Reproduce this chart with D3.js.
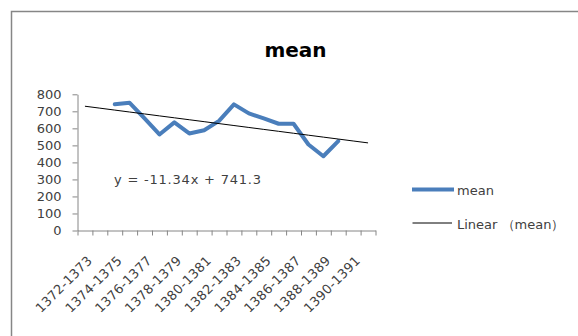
<!DOCTYPE html>
<html>
<head>
<meta charset="utf-8">
<script src="https://cdn.jsdelivr.net/npm/d3@7"></script>
<style>
  html, body { margin: 0; padding: 0; background: #fff; }
  svg { display: block; }
  text { font-family: "DejaVu Sans", sans-serif; }
</style>
</head>
<body>
<svg id="chart" width="578" height="336"></svg>
<script>
// Yearly periods (20 categories along the x axis)
const categories = [
  "1372-1373", "1373-1374", "1374-1375", "1375-1376", "1376-1377",
  "1377-1378", "1378-1379", "1379-1380", "1380-1381", "1381-1382",
  "1382-1383", "1383-1384", "1384-1385", "1385-1386", "1386-1387",
  "1387-1388", "1388-1389", "1389-1390", "1390-1391", "1391-1392"
];
// Mean value per period (null = no observation)
const meanValues = [
  null, null, 741, 750, 658, 564, 635, 570, 589, 644,
  741, 688, 658, 627, 627, 505, 436, 525, null, null
];
// Linear trendline y = slope * x + intercept, x = 1..n over categories
const trendSlope = -11.34;
const trendIntercept = 741.3;
const yTicks = [0, 100, 200, 300, 400, 500, 600, 700, 800];
const seriesName = "mean";
const trendName = "Linear\u00a0\uff08mean\uff09";

const svg = d3.select("#chart");
const plot = { left: 77.5, right: 375.5, top: 94.3, bottom: 230.5 };

// Outer chart frame
svg.append("rect")
  .attr("x", 11.5).attr("y", 11.5)
  .attr("width", 640).attr("height", 400)
  .attr("fill", "#fff")
  .attr("stroke", "#868686")
  .attr("stroke-width", 1.5);

// Title
svg.append("text")
  .attr("x", 295.5).attr("y", 57)
  .attr("text-anchor", "middle")
  .attr("font-size", 20)
  .attr("font-weight", "bold")
  .attr("fill", "#000")
  .text(seriesName);

const x = d3.scaleBand()
  .domain(categories)
  .range([plot.left, plot.right])
  .paddingInner(0).paddingOuter(0);
const y = d3.scaleLinear().domain([0, 800]).range([plot.bottom, plot.top]);

// Y axis
const yAxis = svg.append("g")
  .attr("transform", `translate(${plot.left},0)`)
  .call(d3.axisLeft(y).tickValues(yTicks).tickSize(5).tickPadding(11).tickSizeOuter(0));
yAxis.select(".domain").attr("stroke", "#868686");
yAxis.selectAll(".tick line").attr("stroke", "#868686");
yAxis.selectAll(".tick text")
  .attr("font-family", "DejaVu Sans, sans-serif")
  .attr("font-size", 13)
  .attr("fill", "#404040");

// X axis: ticks on category boundaries
const xb = d3.scaleLinear().domain([0, categories.length]).range([plot.left, plot.right]);
const xAxis = svg.append("g")
  .attr("transform", `translate(0,${plot.bottom})`)
  .call(d3.axisBottom(xb).tickValues(d3.range(categories.length + 1)).tickSize(5).tickFormat("").tickSizeOuter(0));
xAxis.select(".domain").attr("stroke", "#868686");
xAxis.selectAll(".tick line").attr("stroke", "#868686");

// Category labels (every other one), rotated
svg.append("g")
  .selectAll("text")
  .data(categories.filter((d, i) => i % 2 === 0))
  .join("text")
  .attr("transform", d => `translate(${x(d) + x.bandwidth() / 2 + 8},${plot.bottom + 31}) rotate(-45)`)
  .attr("text-anchor", "end")
  .attr("font-size", 13)
  .attr("letter-spacing", 0.3)
  .attr("fill", "#404040")
  .text(d => d);

// Data series line
const line = d3.line()
  .defined(d => d.v !== null)
  .x(d => x(d.c) + x.bandwidth() / 2)
  .y(d => y(d.v));
const pts = categories.map((c, i) => ({ c, v: meanValues[i] }));
svg.append("path")
  .datum(pts)
  .attr("d", line)
  .attr("fill", "none")
  .attr("stroke", "#4a7ebb")
  .attr("stroke-width", 4)
  .attr("stroke-linejoin", "round")
  .attr("stroke-linecap", "round");

// Linear trendline across all categories
const trendPts = categories.map((c, i) => ({ c, v: trendSlope * (i + 1) + trendIntercept }));
svg.append("path")
  .datum(trendPts)
  .attr("d", d3.line().x(d => x(d.c) + x.bandwidth() / 2).y(d => y(d.v)))
  .attr("fill", "none")
  .attr("stroke", "#000")
  .attr("stroke-width", 1);

// Trendline equation
svg.append("text")
  .attr("x", 114).attr("y", 184)
  .attr("font-size", 13)
  .attr("fill", "#404040")
  .attr("textLength", 147)
  .attr("lengthAdjust", "spacing")
  .style("white-space", "pre")
  .text(`y = ${trendSlope < 0 ? "-" : "+"}${Math.abs(trendSlope)}x + ${trendIntercept}`);

// Legend
const legend = svg.append("g");
legend.append("line")
  .attr("x1", 412).attr("x2", 454).attr("y1", 189.5).attr("y2", 189.5)
  .attr("stroke", "#4a7ebb").attr("stroke-width", 4);
legend.append("text")
  .attr("x", 457).attr("y", 194.5)
  .attr("font-size", 13).attr("fill", "#404040")
  .text(seriesName);
legend.append("line")
  .attr("x1", 412.5).attr("x2", 452).attr("y1", 223).attr("y2", 223)
  .attr("stroke", "#000").attr("stroke-width", 1);
legend.append("text")
  .attr("x", 457).attr("y", 228.5)
  .attr("font-size", 13).attr("fill", "#404040")
  .text(trendName);
</script>
</body>
</html>
